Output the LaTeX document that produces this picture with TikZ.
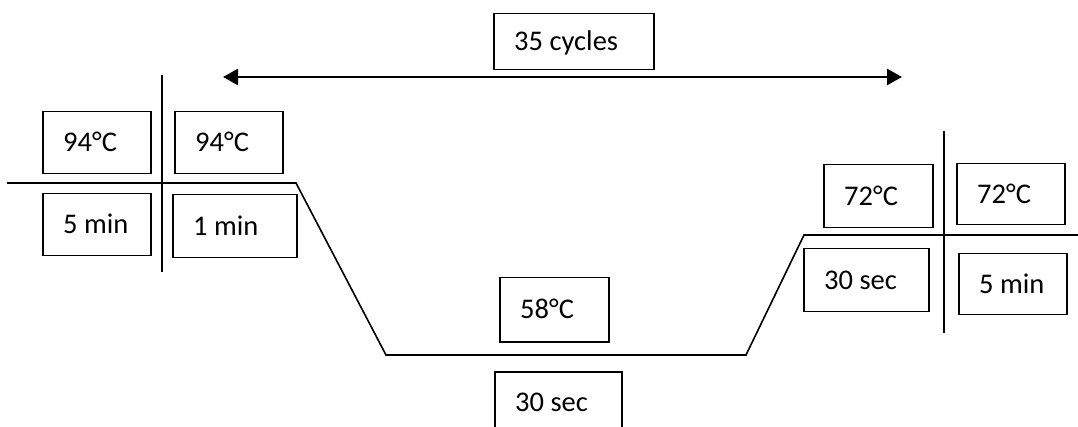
\documentclass[tikz,border=0pt]{standalone}
\usepackage{fontspec}
\setmainfont{Carlito}
\usetikzlibrary{arrows.meta}
\begin{document}
\begin{tikzpicture}[x=1pt,y=-1pt,
  frame/.style={draw, line width=1.5pt, anchor=north west, inner sep=0pt},
  txt/.style={anchor=west, inner sep=0pt, xshift=21pt,
    font=\fontsize{28.5}{34}\selectfont, text height=18pt, text depth=0pt},
  trace/.style={line width=1.6pt, line join=miter},
  cyc/.style={line width=2.6pt, {Triangle[length=15pt,width=16pt]}-{Triangle[length=15pt,width=16pt]}}]
\useasboundingbox (0,0) rectangle (1078,427);
% boxes: name, x, y (top-left), width, height, text
\newcommand{\pbox}[6]{%
  \node[frame, minimum width=#4, minimum height=#5] (#1) at (#2,#3) {};
  \node[txt] (#1t) at (#1.west) {#6};}
\pbox{b94a}{42}{111}{108pt}{62pt}{94°C}
\pbox{b94b}{174}{111}{108pt}{62pt}{94°C}
\pbox{b5a}{42}{193}{108pt}{62pt}{5 min}
\pbox{b1}{172}{194}{124pt}{63pt}{1 min}
\pbox{b72a}{823}{164}{109pt}{63pt}{72°C}
\pbox{b72b}{956}{163}{108pt}{61pt}{72°C}
\pbox{b30a}{803}{248}{125pt}{63pt}{30 sec}
\pbox{b5b}{958}{253}{108pt}{61pt}{5 min}
\pbox{b58}{499}{277}{109pt}{64pt}{58°C}
\pbox{b30b}{494}{371}{127pt}{62pt}{30 sec}
\pbox{b35}{493}{13}{160pt}{56pt}{35 cycles}
% temperature profile
\coordinate (p0) at (7,183);
\coordinate (p1) at (296,183);
\coordinate (p2) at (386,355);
\coordinate (p3) at (746,355);
\coordinate (p4) at (804,235);
\coordinate (p5) at (1078,235);
\draw[trace] (p0) -- (p1) -- (p2) -- (p3) -- (p4) -- (p5);
% separators
\coordinate (v1t) at (162,75);
\coordinate (v1b) at (162,272);
\coordinate (v2t) at (944,131);
\coordinate (v2b) at (944,333);
\draw[trace] (v1t) -- (v1b);
\draw[trace] (v2t) -- (v2b);
% cycles arrow
\coordinate (al) at (223,77);
\coordinate (ar) at (902,77);
\draw[cyc] (al) -- (ar);
\end{tikzpicture}
\end{document}
